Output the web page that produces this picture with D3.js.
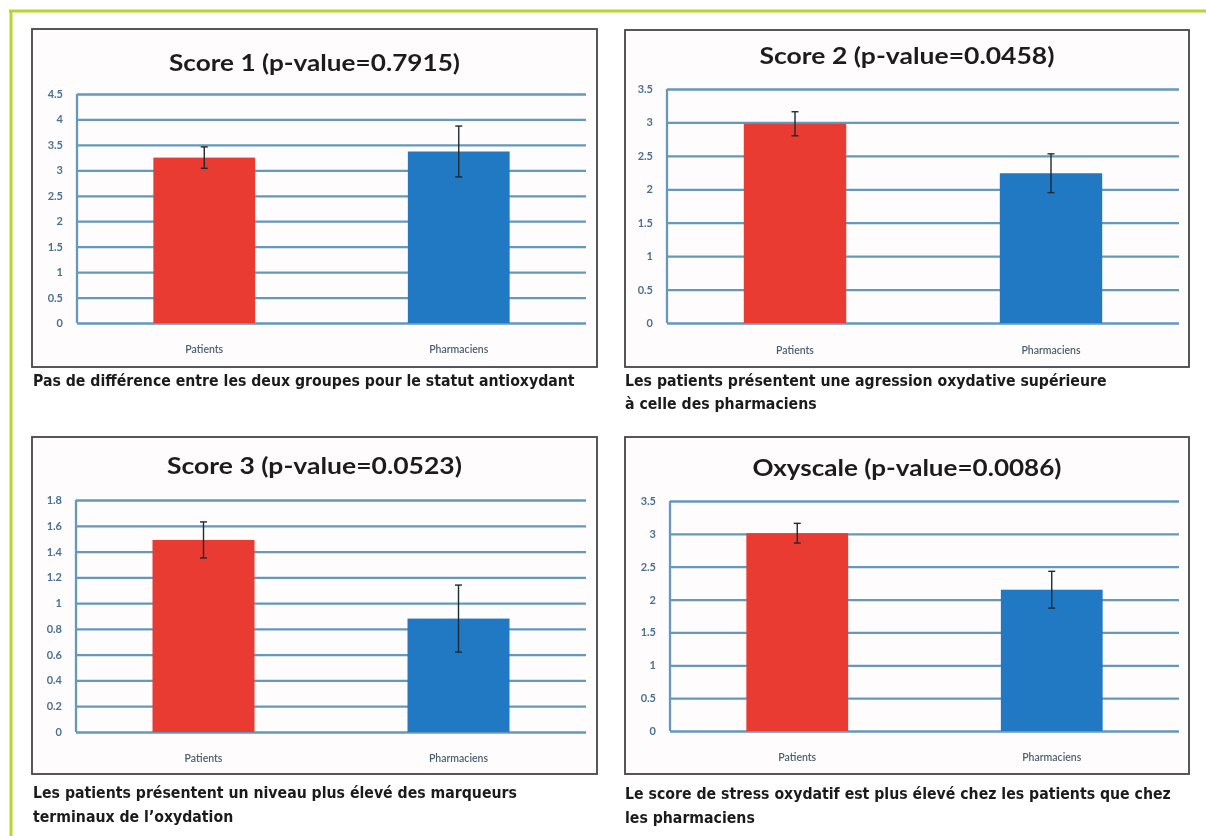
<!DOCTYPE html>
<html>
<head>
<meta charset="utf-8">
<script src="https://cdn.jsdelivr.net/npm/d3@7"></script>
<style>
  html, body { margin: 0; padding: 0; background: #ffffff; }
  svg { display: block; }
</style>
</head>
<body>
<svg id="chart" width="1206" height="836"></svg>
<script>
// Groups compared in every panel
const categories = ["Patients", "Pharmaciens"];

// Panel titles
const titles = [
  "Score 1 (p-value=0.7915)",
  "Score 2 (p-value=0.0458)",
  "Score 3 (p-value=0.0523)",
  "Oxyscale (p-value=0.0086)"
];

// Mean scores and error bar half-widths, one pair per group
const score1Means = [3.25, 3.37];
const score1Errors = [0.21, 0.50];
const score2Means = [2.98, 2.24];
const score2Errors = [0.18, 0.29];
const score3Means = [1.49, 0.88];
const score3Errors = [0.14, 0.26];
const oxyscaleMeans = [3.01, 2.15];
const oxyscaleErrors = [0.15, 0.28];

// Y axis tick values
const score1Ticks = [0, 0.5, 1, 1.5, 2, 2.5, 3, 3.5, 4, 4.5];
const score2Ticks = [0, 0.5, 1, 1.5, 2, 2.5, 3, 3.5];
const score3Ticks = [0, 0.2, 0.4, 0.6, 0.8, 1, 1.2, 1.4, 1.6, 1.8];
const oxyscaleTicks = [0, 0.5, 1, 1.5, 2, 2.5, 3, 3.5];

// Captions under each panel (one entry per line)
const captions = [
  ["Pas de différence entre les deux groupes pour le statut antioxydant"],
  ["Les patients présentent une agression oxydative supérieure", "à celle des pharmaciens"],
  ["Les patients présentent un niveau plus élevé des marqueurs", "terminaux de l\u2019oxydation"],
  ["Le score de stress oxydatif est plus élevé chez les patients que chez", "les pharmaciens"]
];

const barColors = ["#ea3b31", "#2479c3"];

const panelData = [
  { means: score1Means, errors: score1Errors, ticks: score1Ticks },
  { means: score2Means, errors: score2Errors, ticks: score2Ticks },
  { means: score3Means, errors: score3Errors, ticks: score3Ticks },
  { means: oxyscaleMeans, errors: oxyscaleErrors, ticks: oxyscaleTicks }
];

// Page layout of the four framed charts
const layout = [
  { box: [32, 29, 565, 338], plot: { l: 77, r: 586, t: 94, b: 323 }, titleY: 62, titleW: 291, labelY: 349,
    cap: { x: 33, y: [386] } },
  { box: [625, 30, 564, 337], plot: { l: 667, r: 1179, t: 89, b: 323 }, titleY: 55, titleW: 295, labelY: 350,
    cap: { x: 625, y: [386, 409] } },
  { box: [32, 437, 565, 337], plot: { l: 76, r: 586, t: 500, b: 732 }, titleY: 465, titleW: 295, labelY: 758,
    cap: { x: 33, y: [798, 822] } },
  { box: [625, 437, 564, 337], plot: { l: 670, r: 1179, t: 501, b: 731 }, titleY: 467, titleW: 309, labelY: 757,
    cap: { x: 625, y: [799, 823] } }
];
// width spanned by the first caption line; all captions share the resulting size
const captionRefWidth = 542;
const captionFont = "'Liberation Sans Narrow', 'DejaVu Sans Condensed', 'Roboto', sans-serif";

const svg = d3.select("#chart");

const defs = svg.append("defs");
defs.append("filter").attr("id", "soft")
  .attr("x", "-5%").attr("y", "-5%").attr("width", "110%").attr("height", "110%")
  .append("feGaussianBlur").attr("stdDeviation", 0.55);

// Outer green frame
const frameColor = "#b9d333";
svg.append("line").attr("x1", 9).attr("x2", 1206).attr("y1", 11).attr("y2", 11)
  .attr("stroke", frameColor).attr("stroke-width", 3);
svg.append("line").attr("x1", 11).attr("x2", 11).attr("y1", 10).attr("y2", 836)
  .attr("stroke", frameColor).attr("stroke-width", 3);

// caption font size from a measured reference line
const probe = svg.append("text")
  .attr("font-family", captionFont).attr("font-weight", 700).attr("font-size", 100)
  .text(captions[0][0]);
const captionSize = Math.min(19, 100 * captionRefWidth / probe.node().getComputedTextLength());
probe.remove();

panelData.forEach((d, i) => {
  const L = layout[i];
  const p = L.plot;
  const [bx, by, bw, bh] = L.box;

  // framed panel background
  svg.append("rect").attr("x", bx).attr("y", by).attr("width", bw).attr("height", bh)
    .attr("fill", "#fefcfc");

  const g = svg.append("g").attr("filter", "url(#soft)");

  const x = d3.scaleBand().domain(categories).range([p.l, p.r]).paddingInner(0).paddingOuter(0);
  const yMax = d3.max(d.ticks);
  const y = d3.scaleLinear().domain([0, yMax]).range([p.b, p.t]);

  // title
  g.append("text")
    .attr("x", bx + bw / 2).attr("y", L.titleY)
    .attr("text-anchor", "middle").attr("dominant-baseline", "central")
    .attr("font-family", "Lato, 'Open Sans', sans-serif").attr("font-weight", 700)
    .attr("font-size", 22).attr("fill", "#1e1e1e")
    .attr("textLength", L.titleW).attr("lengthAdjust", "spacingAndGlyphs")
    .text(titles[i]);

  // horizontal gridlines with their values
  const yAxis = d3.axisLeft(y).tickValues(d.ticks).tickSize(-(p.r - p.l)).tickPadding(14)
    .tickFormat(v => String(v));
  const ya = g.append("g").attr("transform", `translate(${p.l},0)`).call(yAxis);
  ya.select(".domain").remove();
  ya.selectAll(".tick line").attr("stroke", "#6399bb").attr("stroke-width", 2.3);
  ya.selectAll(".tick text")
    .attr("font-family", "Lato, 'Open Sans', sans-serif").attr("font-weight", 700)
    .attr("font-size", 11).attr("fill", "#4a7192");

  // vertical axis line
  g.append("line").attr("x1", p.l).attr("x2", p.l).attr("y1", y(yMax)).attr("y2", y(0))
    .attr("stroke", "#6399bb").attr("stroke-width", 2.3);

  // bars
  const barW = x.bandwidth() * 0.4;
  g.selectAll("rect.bar").data(categories).enter().append("rect")
    .attr("class", "bar")
    .attr("x", c => x(c) + (x.bandwidth() - barW) / 2)
    .attr("width", barW)
    .attr("y", (c, j) => y(d.means[j]))
    .attr("height", (c, j) => y(0) - y(d.means[j]))
    .attr("fill", (c, j) => barColors[j]);

  // error bars
  const eb = g.selectAll("g.err").data(categories).enter().append("g").attr("class", "err");
  eb.append("line")
    .attr("x1", c => x(c) + x.bandwidth() / 2).attr("x2", c => x(c) + x.bandwidth() / 2)
    .attr("y1", (c, j) => y(d.means[j] + d.errors[j]))
    .attr("y2", (c, j) => y(d.means[j] - d.errors[j]))
    .attr("stroke", "#1d2a33").attr("stroke-width", 1.4);
  [1, -1].forEach(s => {
    eb.append("line")
      .attr("x1", c => x(c) + x.bandwidth() / 2 - 3.5).attr("x2", c => x(c) + x.bandwidth() / 2 + 3.5)
      .attr("y1", (c, j) => y(d.means[j] + s * d.errors[j]))
      .attr("y2", (c, j) => y(d.means[j] + s * d.errors[j]))
      .attr("stroke", "#1d2a33").attr("stroke-width", 1.4);
  });

  // category labels
  const xAxis = d3.axisBottom(x).tickSize(0).tickPadding(0);
  const xa = g.append("g").attr("transform", `translate(0,${L.labelY})`).call(xAxis);
  xa.select(".domain").remove();
  xa.selectAll(".tick text")
    .attr("dy", "0.35em")
    .attr("font-family", "Lato, 'Open Sans', sans-serif").attr("font-weight", 600)
    .attr("font-size", 10.5).attr("fill", "#4b6072");

  // panel border
  svg.append("rect").attr("x", bx).attr("y", by).attr("width", bw).attr("height", bh)
    .attr("fill", "none").attr("stroke", "#454545").attr("stroke-width", 1.8);

  // caption lines
  captions[i].forEach((line, k) => {
    svg.append("text")
      .attr("x", L.cap.x).attr("y", L.cap.y[k])
      .attr("font-family", captionFont)
      .attr("font-weight", 700).attr("font-size", captionSize).attr("fill", "#1b1b1b")
      .text(line);
  });
});
</script>
</body>
</html>
